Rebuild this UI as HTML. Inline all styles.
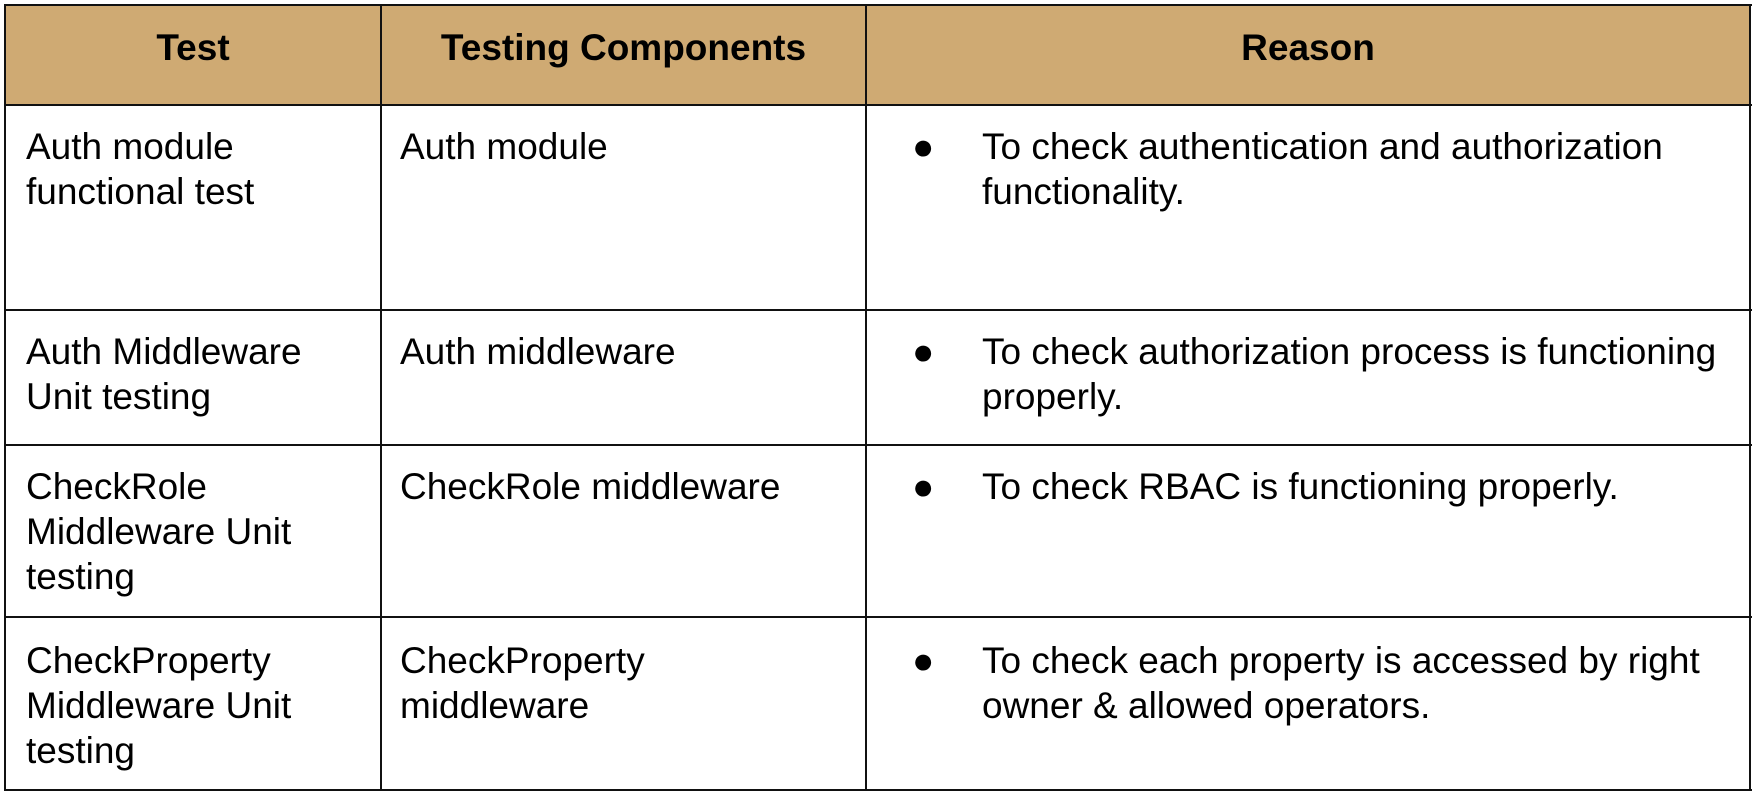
<!DOCTYPE html>
<html><head><style>
body{margin:0;width:1756px;height:794px;background:#fff;position:relative;overflow:hidden;font-family:"Liberation Sans",Arial,sans-serif;color:#000}
.h{position:absolute;left:5px;top:5px;width:1745px;height:100px;background:#cfaa73}
.l{position:absolute;background:#111}
.t{position:absolute;font-size:37px;line-height:45px;white-space:nowrap}
.b{font-weight:bold;text-align:center}
</style></head><body>
<div class="h"></div>
<div class="l" style="left:4px;top:4px;width:1748px;height:2px"></div>
<div class="l" style="left:4px;top:104px;width:1748px;height:2px"></div>
<div class="l" style="left:4px;top:309px;width:1748px;height:2px"></div>
<div class="l" style="left:4px;top:444px;width:1748px;height:2px"></div>
<div class="l" style="left:4px;top:616px;width:1748px;height:2px"></div>
<div class="l" style="left:4px;top:789px;width:1748px;height:2px"></div>
<div class="l" style="left:4px;top:4px;width:2px;height:787px"></div>
<div class="l" style="left:380px;top:4px;width:2px;height:787px"></div>
<div class="l" style="left:865px;top:4px;width:2px;height:787px"></div>
<div class="l" style="left:1749px;top:4px;width:2px;height:787px"></div>

<div class="t b" style="left:6px;width:374px;top:25px">Test</div>
<div class="t b" style="left:382px;width:483px;top:25px">Testing Components</div>
<div class="t b" style="left:867px;width:882px;top:25px">Reason</div>

<div class="t" style="left:26px;top:124px">Auth module<br>functional test</div>
<div class="t" style="left:400px;top:124px">Auth module</div>
<div class="t" style="left:912px;top:124px">●</div>
<div class="t" style="left:982px;top:124px">To check authentication and authorization<br>functionality.</div>

<div class="t" style="left:26px;top:329px">Auth Middleware<br>Unit testing</div>
<div class="t" style="left:400px;top:329px">Auth middleware</div>
<div class="t" style="left:912px;top:329px">●</div>
<div class="t" style="left:982px;top:329px">To check authorization process is functioning<br>properly.</div>

<div class="t" style="left:26px;top:464px">CheckRole<br>Middleware Unit<br>testing</div>
<div class="t" style="left:400px;top:464px">CheckRole middleware</div>
<div class="t" style="left:912px;top:464px">●</div>
<div class="t" style="left:982px;top:464px">To check RBAC is functioning properly.</div>

<div class="t" style="left:26px;top:638px">CheckProperty<br>Middleware Unit<br>testing</div>
<div class="t" style="left:400px;top:638px">CheckProperty<br>middleware</div>
<div class="t" style="left:912px;top:638px">●</div>
<div class="t" style="left:982px;top:638px">To check each property is accessed by right<br>owner &amp; allowed operators.</div>
</body></html>
